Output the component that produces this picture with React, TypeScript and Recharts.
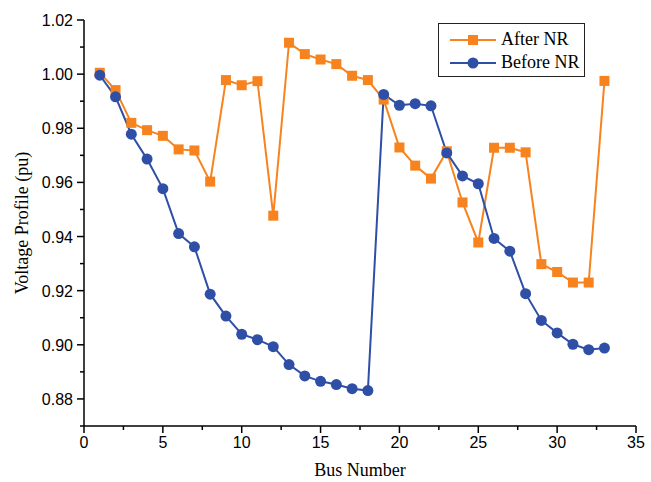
import { Legend, Line, LineChart, XAxis, YAxis } from 'recharts'

const buses = [
  1, 2, 3, 4, 5, 6, 7, 8, 9, 10, 11, 12, 13, 14, 15, 16, 17, 18, 19, 20, 21, 22, 23, 24, 25, 26, 27, 28, 29,
  30, 31, 32, 33
]

const afterNR = [
  1.0005, 0.9941, 0.982, 0.9793, 0.9772, 0.9722, 0.9718, 0.9603, 0.9978, 0.9959, 0.9974, 0.9477, 1.0116,
  1.0074, 1.0054, 1.0037, 0.9994, 0.9978, 0.9906, 0.9729, 0.9662, 0.9614, 0.9715, 0.9526, 0.9378, 0.9728,
  0.9728, 0.9711, 0.9298, 0.9269, 0.923, 0.923, 0.9975
]

const beforeNR = [
  0.9996, 0.9916, 0.9778, 0.9686, 0.9577, 0.9411, 0.9362, 0.9187, 0.9106, 0.9039, 0.9019, 0.8993, 0.8927,
  0.8885, 0.8865, 0.8853, 0.8838, 0.8831, 0.9925, 0.9885, 0.9891, 0.9883, 0.9709, 0.9624, 0.9595, 0.9393,
  0.9346, 0.9189, 0.909, 0.9044, 0.9002, 0.8982, 0.8988
]

const xTicks = [0, 2.5, 5, 7.5, 10, 12.5, 15, 17.5, 20, 22.5, 25, 27.5, 30, 32.5, 35]
const yTicks = [0.87, 0.88, 0.89, 0.9, 0.91, 0.92, 0.93, 0.94, 0.95, 0.96, 0.97, 0.98, 0.99, 1.0, 1.01, 1.02]

const ORANGE = '#f7831f'
const BLUE = '#2f4fa6'

const chartData = buses.map((bus, i) => ({
  bus,
  after: afterNR[i],
  before: beforeNR[i]
}))

const tickFont = "'Liberation Sans', Arial, sans-serif"
const serif = "'Liberation Serif', 'Times New Roman', serif"

function XTick({ x, y, payload }: any) {
  const major = payload.value % 5 === 0
  return (
    <g>
      <line x1={x} x2={x} y1={y} y2={y + (major ? 7 : 4)} stroke="#000" strokeWidth={1.5} />
      {major && (
        <text x={x} y={y + 22} textAnchor="middle" fontSize={16} fontFamily={tickFont} fill="#000">
          {payload.value}
        </text>
      )}
    </g>
  )
}

function YTick({ x, y, payload }: any) {
  const major = Math.round(payload.value * 100) % 2 === 0
  return (
    <g>
      <line x1={x} x2={x - (major ? 7 : 4)} y1={y} y2={y} stroke="#000" strokeWidth={1.5} />
      {major && (
        <text x={x - 11} y={y + 6} textAnchor="end" fontSize={16} fontFamily={tickFont} fill="#000">
          {payload.value.toFixed(2)}
        </text>
      )}
    </g>
  )
}

function SquareDot({ cx, cy, index }: any) {
  return <rect key={`sq-${index}`} x={cx - 5} y={cy - 5} width={10} height={10} fill={ORANGE} />
}

function CircleDot({ cx, cy, index }: any) {
  return <circle key={`ci-${index}`} cx={cx} cy={cy} r={5.5} fill={BLUE} />
}

function LegendBox() {
  const items = [
    { name: 'After NR', color: ORANGE, shape: 'square' },
    { name: 'Before NR', color: BLUE, shape: 'circle' }
  ]
  return (
    <div
      style={{
        boxSizing: 'border-box',
        width: 147,
        height: 54,
        border: '1.5px solid #222',
        background: '#fff',
        padding: '4px 0 0 11px',
        fontFamily: serif,
        fontSize: 18,
        color: '#000',
        whiteSpace: 'nowrap'
      }}
    >
      {items.map((it) => (
        <div key={it.name} style={{ display: 'flex', alignItems: 'center', height: 23 }}>
          <svg width={46} height={14} style={{ marginRight: 5, flexShrink: 0 }}>
            <line x1={0} x2={46} y1={7} y2={7} stroke={it.color} strokeWidth={2} />
            {it.shape === 'square' ? (
              <rect x={18} y={2} width={10} height={10} fill={it.color} />
            ) : (
              <circle cx={23} cy={7} r={5.5} fill={it.color} />
            )}
          </svg>
          <span>{it.name}</span>
        </div>
      ))}
    </div>
  )
}

export default function App() {
  return (
    <div style={{ width: 651, height: 482, background: '#fff' }}>
      <style>{'body { margin: 0; }'}</style>
      <LineChart width={651} height={482} data={chartData} margin={{ top: 20, right: 15, bottom: 6, left: 0 }}>
        <XAxis
          dataKey="bus"
          type="number"
          domain={[0, 35]}
          ticks={xTicks}
          interval={0}
          height={50}
          tickSize={0}
          tickMargin={0}
          tickLine={false}
          tick={<XTick />}
          axisLine={{ stroke: '#000', strokeWidth: 1.5 }}
          label={{
            value: 'Bus Number',
            position: 'insideBottom',
            offset: 0,
            style: { fontFamily: serif, fontSize: 18, fill: '#000' }
          }}
        />
        <YAxis
          type="number"
          domain={[0.87, 1.02]}
          ticks={yTicks}
          interval={0}
          width={84}
          tickSize={0}
          tickMargin={0}
          tickLine={false}
          tick={<YTick />}
          axisLine={{ stroke: '#000', strokeWidth: 1.5 }}
          label={{
            value: 'Voltage Profile (pu)',
            angle: -90,
            position: 'insideLeft',
            offset: 22,
            style: { fontFamily: serif, fontSize: 18, fill: '#000', textAnchor: 'middle' }
          }}
        />
        <Legend
          layout="horizontal"
          verticalAlign="middle"
          align="center"
          content={<LegendBox />}
          wrapperStyle={{ left: 438, top: 23, width: 147, height: 54 }}
        />
        <Line
          dataKey="after"
          name="After NR"
          stroke={ORANGE}
          strokeWidth={2}
          dot={<SquareDot />}
          activeDot={false}
          isAnimationActive={false}
        />
        <Line
          dataKey="before"
          name="Before NR"
          stroke={BLUE}
          strokeWidth={2}
          dot={<CircleDot />}
          activeDot={false}
          isAnimationActive={false}
        />
      </LineChart>
    </div>
  )
}
